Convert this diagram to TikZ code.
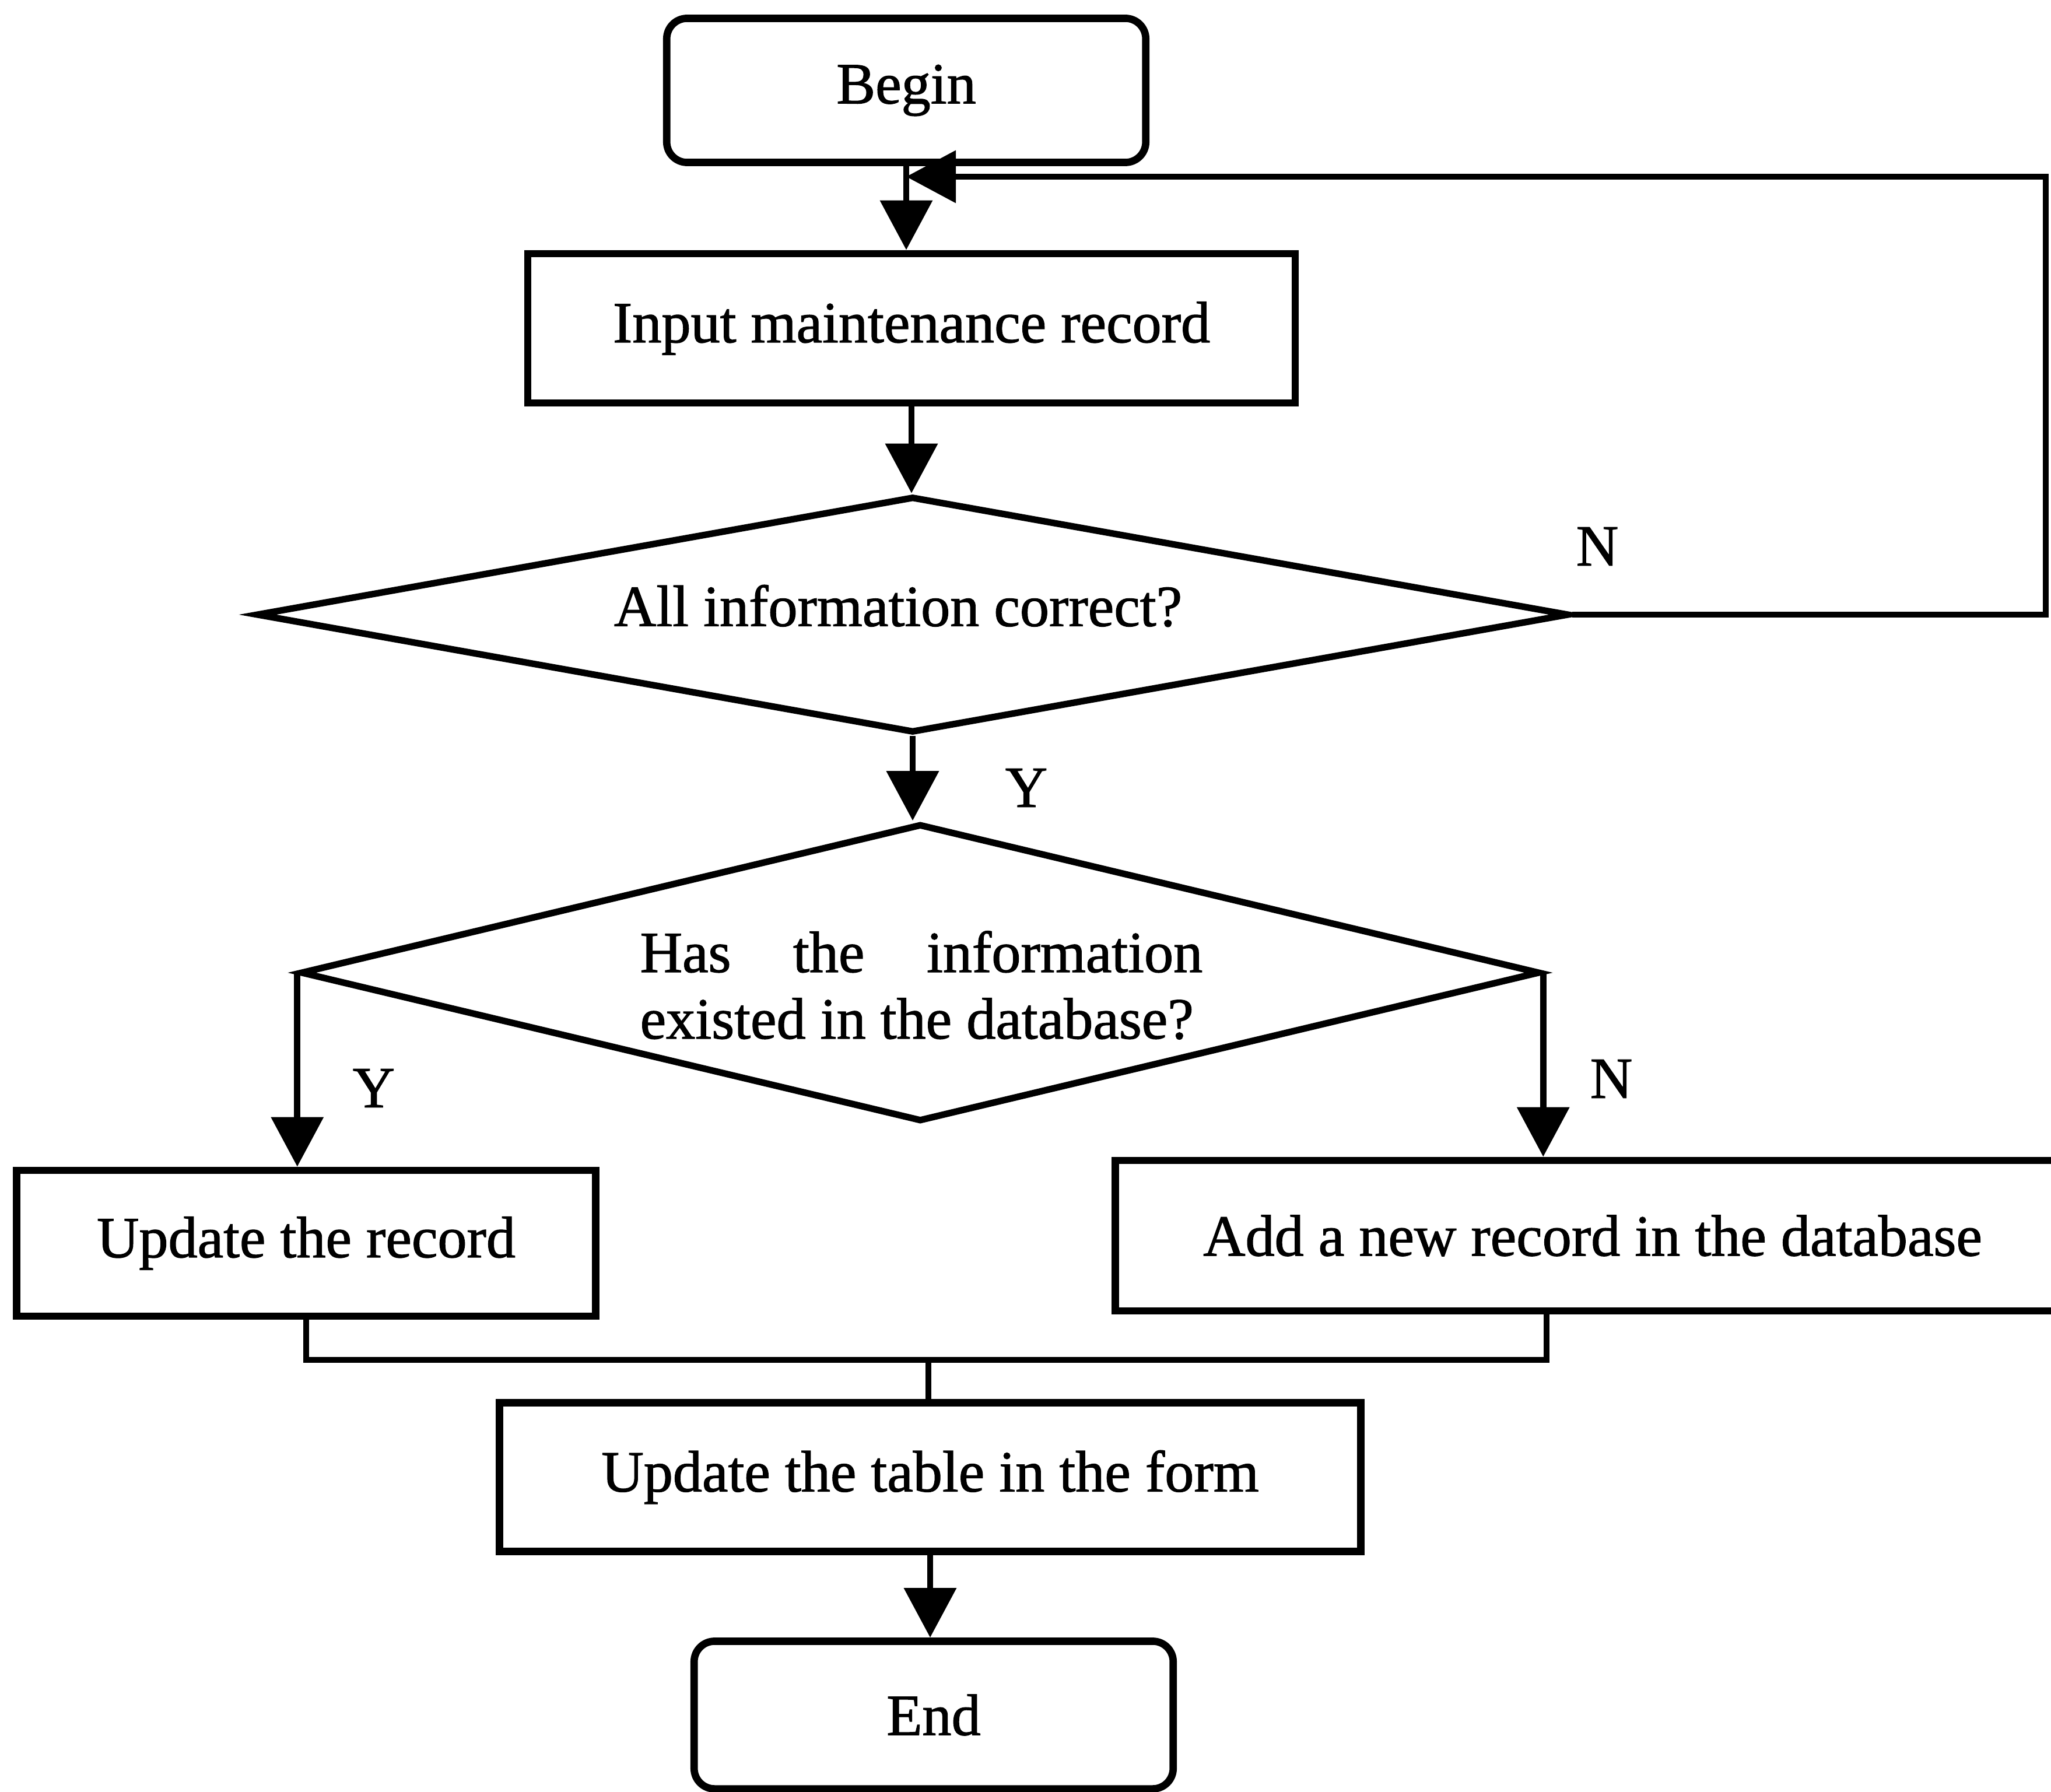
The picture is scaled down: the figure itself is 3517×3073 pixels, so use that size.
\documentclass[tikz,border=0pt]{standalone}
\usepackage{fontspec}
\setmainfont{Liberation Serif}[FakeBold=1.2]
\usetikzlibrary{shapes.geometric,arrows.meta}
\begin{document}
\begin{tikzpicture}[x=0.01cm,y=-0.01cm,
  every node/.style={font=\fontsize{28.5pt}{32.4pt}\selectfont},
  proc/.style={draw, rectangle, line width=3.6pt, inner sep=0pt},
  term/.style={proc, rounded corners=0.35cm},
  decision/.style={draw, diamond, line width=3.2pt, inner sep=0pt},
  lbl/.style={inner sep=0pt},
  conn/.style={line width=3.0pt},
  arr/.style={conn, -{Triangle[length=0.85cm,width=0.88cm]}},
]
% page frame
\useasboundingbox (0,0) rectangle (3517,3073);
\fill[white] (0,0) rectangle (3517,3073);
\clip (0,0) rectangle (3517,3073);

% main column
\node[term, minimum width=8.21cm, minimum height=2.47cm] (begin) at (1554,155) {Begin};
\node[proc, minimum width=13.15cm, minimum height=2.56cm] (input) at (1563,563) {Input maintenance record};
\node[decision, minimum width=22.5cm, minimum height=4.05cm] (d1) at (1565,1054) {};
\node[lbl] (d1text) at (1540,1039) {All information correct?};
\node[decision, minimum width=21.24cm, minimum height=5.1cm] (d2) at (1578,1668) {};
\node[lbl, anchor=base west] (d2line1) at (1097,1667) {\makebox[9.64cm][s]{Has the information}};
\node[lbl, anchor=base west] (d2line2) at (1097,1781) {existed in the database?};

% branch labels
\node[lbl] (n1) at (2739,937) {N};
\node[lbl] (y1) at (1760,1351) {Y};
\node[lbl] (y2) at (641,1866) {Y};
\node[lbl] (n2) at (2763,1850) {N};

% branches and the common tail
\node[proc, minimum width=9.92cm, minimum height=2.5cm] (upd) at (525,2132) {Update the record};
\node[proc, minimum width=16.36cm, minimum height=2.58cm] (add) at (2731,2119) {Add a new record in the database};
\node[proc, minimum width=14.76cm, minimum height=2.55cm] (table) at (1595,2533) {Update the table in the form};
\node[term, minimum width=8.21cm, minimum height=2.53cm] (end) at (1601,2941) {End};

% connectors
\draw[arr] (begin.south) -- (begin.south |- input.north);
\draw[arr] (input.south) -- (input.south |- d1.north);
\draw[arr] (d1.south) -- (d1.south |- d2.north);
\draw[arr] (d2.west) -- (d2.west |- upd.north);
\draw[arr] (d2.east) -- (d2.east |- add.north);

\coordinate (join) at (1592,2332);
\coordinate (addout) at ([xshift=-0.79cm]add.south);
\draw[conn] (upd.south) |- (join);
\draw[conn] (addout) |- (join);
\draw[conn] (join) -- (join |- table.north);
\draw[arr] (table.south) -- (table.south |- end.north);

% "N" loop back to the input step
\coordinate (rloop) at (3508,303);
\draw[arr] (d1.east) -| (rloop) -- (begin.south |- rloop);
\end{tikzpicture}
\end{document}
